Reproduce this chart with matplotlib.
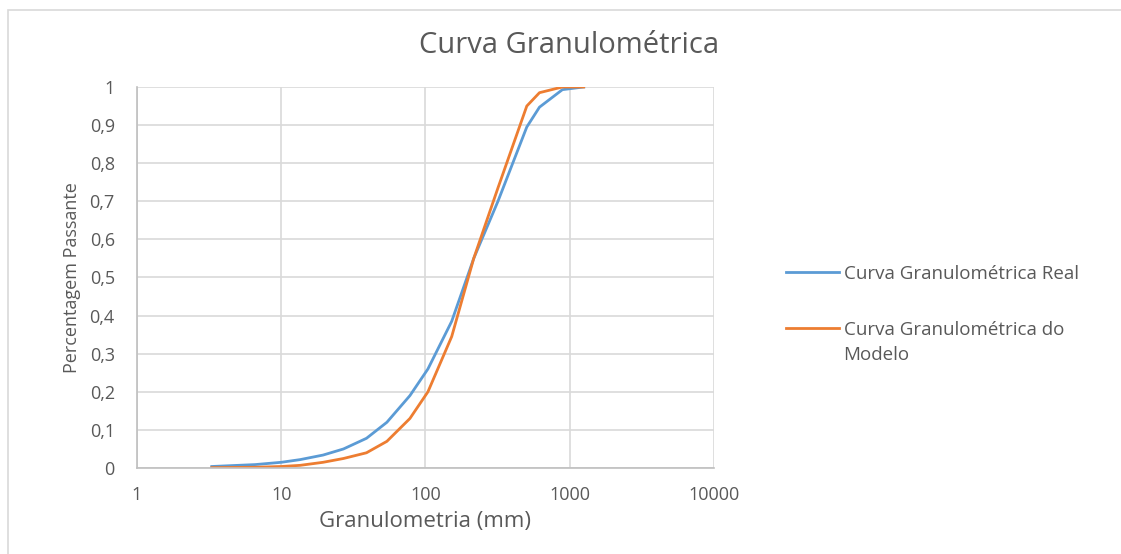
import numpy as np
import matplotlib
matplotlib.use("Agg")
import matplotlib.pyplot as plt
from matplotlib.ticker import FixedLocator, FuncFormatter, NullLocator

#   sieve sizes (mm)
diam = [3.3, 6.6, 10, 13.5, 19.5, 27, 39, 54, 78, 104, 152, 216, 318, 504, 617, 890, 1250]
#   percent passing, measured curve
passReal = [0.004, 0.009, 0.015, 0.022, 0.034, 0.05, 0.078, 0.12, 0.19, 0.26,
            0.385, 0.55, 0.70, 0.895, 0.947, 0.993, 1.0]
#   percent passing, model curve
passModel = [0.001, 0.002, 0.004, 0.007, 0.015, 0.025, 0.04, 0.07, 0.13, 0.2,
             0.345, 0.55, 0.735, 0.95, 0.985, 1.0, 1.0]

labels = ["Curva Granulométrica Real", "Curva Granulométrica do", "Modelo"]
xticks = [1, 10, 100, 1000, 10000]
yticks = [0, 0.1, 0.2, 0.3, 0.4, 0.5, 0.6, 0.7, 0.8, 0.9, 1.0]

plt.rcParams['font.family'] = ['Open Sans', 'DejaVu Sans']
txtColor = '#595959'
gridColor = '#D9D9D9'

fig = plt.figure(figsize=(11.21, 5.54), dpi=100)
#   outer chart frame like the excel export
frame = plt.Rectangle((0.007, -0.05), 1.2, 1.032, transform=fig.transFigure,
                      fill=False, edgecolor='#D9D9D9', linewidth=1.2)
fig.add_artist(frame)

ax = fig.add_axes([0.1222, 0.1552, 0.5147, 0.6878])
l1, = ax.plot(diam, passReal, color='#5B9BD5', linewidth=2.0, label=labels[0])
l2, = ax.plot(diam, passModel, color='#ED7D31', linewidth=2.0, label=labels[1])

ax.set_xscale('log')
ax.set_xlim(1, 10000)
ax.set_ylim(0, 1)
ax.xaxis.set_major_locator(FixedLocator(xticks))
ax.xaxis.set_minor_locator(NullLocator())
ax.xaxis.set_major_formatter(FuncFormatter(lambda v, p: '%d' % v))
ax.yaxis.set_major_locator(FixedLocator(yticks))
ax.yaxis.set_major_formatter(FuncFormatter(lambda v, p: ('%g' % round(v, 1)).replace('.', ',')))

ax.grid(True, color=gridColor, linewidth=1.2)
ax.set_axisbelow(True)
for s in ['top', 'right']:
    ax.spines[s].set_visible(False)
for s in ['left', 'bottom']:
    ax.spines[s].set_color('#BFBFBF')
    ax.spines[s].set_linewidth(1.2)
ax.tick_params(axis='both', length=0, labelsize=13, colors=txtColor)
ax.tick_params(axis='x', pad=13)
ax.tick_params(axis='y', pad=16)

ax.set_xlabel('Granulometria (mm)', fontsize=16, color=txtColor, labelpad=5)
ax.set_ylabel('Percentagem Passante', fontsize=13, color=txtColor, labelpad=6)
fig.text(0.508, 0.917, 'Curva Granulométrica', ha='center', va='center',
         fontsize=21, color=txtColor)

leg = fig.legend(handles=[l1, l2], loc='upper left', bbox_to_anchor=(0.6865, 0.553),
                 frameon=False, fontsize=13.5, handlelength=2.8, handletextpad=0.25,
                 labelspacing=2.05, labelcolor=txtColor)
#   second line of the wrapped legend label
fig.text(0.752, 1 - 355 / 554, labels[2], ha='left', va='center',
         fontsize=13.5, color=txtColor)

fig.savefig('out.png', dpi=100)
